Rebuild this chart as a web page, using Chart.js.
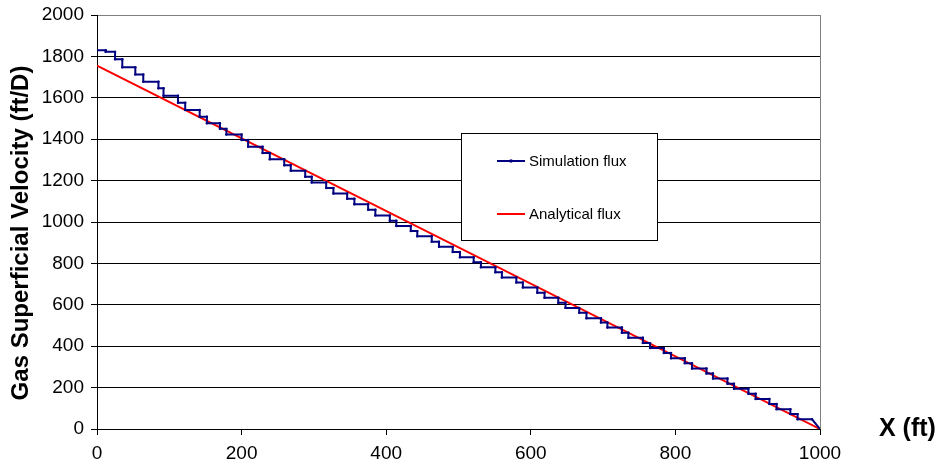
<!DOCTYPE html>
<html><head><meta charset="utf-8">
<script src="https://cdn.jsdelivr.net/npm/chart.js@4.4.0/dist/chart.umd.min.js"></script>
<style>html,body{margin:0;padding:0;background:#fff;}#wrap{width:941px;height:473px;position:relative;}</style>
</head><body><div id="wrap"><canvas id="c" width="941" height="473"></canvas></div>
<script>
// ---- data ----
const seriesNames = ['Simulation flux', 'Analytical flux'];
// simulation: step edges (ft) and the flux value on each step
const stepX = [0,12,25,35,53,64,85,92,112,122,142,152,170,179,200,209,229,239,259,268,288,297,317,327,346,356,375,385,405,414,434,443,463,473,492,502,521,531,551,560,580,589,609,619,638,648,667,677,697,706,726,735,755,765,784,794,813,823,843,852,872,881,901,911,930,940,959,969,989];
const stepV = [1830,1822,1786,1747,1713,1678,1646,1610,1576,1541,1509,1477,1450,1423,1396,1364,1333,1303,1274,1247,1219,1191,1164,1138,1112,1086,1059,1032,1006,981,956,931,905,880,855,830,806,781,757,732,708,684,658,634,610,585,561,535,514,490,465,441,415,391,367,342,318,292,268,244,219,195,170,145,121,96,72,47];
const simEndX = [1000];
const simEndV = [0];
// analytical straight line
const analyticalX = [0, 1000];
const analyticalV = [1755, 0];
// axes
const xTicks = [0, 200, 400, 600, 800, 1000];
const yTicks = [0, 200, 400, 600, 800, 1000, 1200, 1400, 1600, 1800, 2000];
const xTitle = 'X (ft)';
const yTitle = 'Gas Superficial Velocity (ft/D)';

// ---- build point tables ----
const simPts = [];
for (let i = 0; i < stepV.length; i++) {
  simPts.push({x: stepX[i], y: stepV[i]});
  simPts.push({x: stepX[i + 1], y: stepV[i]});
}
for (let i = 0; i < simEndX.length; i++) simPts.push({x: simEndX[i], y: simEndV[i]});
const anaPts = analyticalX.map((x, i) => ({x, y: analyticalV[i]}));

const FONT = "'Liberation Sans', Arial, Helvetica, sans-serif";
Chart.defaults.font.family = FONT;
Chart.defaults.color = '#000';

const BLUE = '#000080', RED = '#FF0000';

const decor = {
  id: 'decor',
  afterDatasetsDraw(chart) {
    const ctx = chart.ctx, a = chart.chartArea;
    ctx.save();
    // right border
    ctx.strokeStyle = '#808080'; ctx.lineWidth = 1;
    ctx.beginPath(); ctx.moveTo(Math.round(a.right) + 0.5, a.top); ctx.lineTo(Math.round(a.right) + 0.5, a.bottom); ctx.stroke();
    // legend box
    const bx = 461.5, by = 133.5, bw = 196, bh = 107;
    ctx.fillStyle = '#fff'; ctx.fillRect(bx, by, bw, bh);
    ctx.strokeStyle = '#000'; ctx.lineWidth = 1; ctx.strokeRect(bx, by, bw, bh);
    const rows = [{y: 161, c: BLUE, mark: true}, {y: 214, c: RED, mark: false}];
    ctx.font = '15px ' + FONT; ctx.textBaseline = 'middle'; ctx.textAlign = 'left';
    rows.forEach((r, i) => {
      ctx.strokeStyle = r.c; ctx.lineWidth = 2;
      ctx.beginPath(); ctx.moveTo(497, r.y); ctx.lineTo(525, r.y); ctx.stroke();
      if (r.mark) { ctx.fillStyle = r.c; ctx.beginPath(); ctx.arc(511, r.y, 1.8, 0, Math.PI * 2); ctx.fill(); }
      ctx.fillStyle = '#000';
      ctx.fillText(chart.data.datasets[i].label, 529, r.y + 1);
    });
    ctx.restore();
  },
  afterDraw(chart) {
    const ctx = chart.ctx, a = chart.chartArea;
    ctx.save();
    ctx.fillStyle = '#000';
    ctx.font = 'bold 25px ' + FONT;
    ctx.textAlign = 'left'; ctx.textBaseline = 'middle';
    ctx.fillText(xTitle, 879, 429);
    ctx.translate(21, 233);
    ctx.rotate(-Math.PI / 2);
    ctx.textAlign = 'center';
    ctx.font = 'bold 24px ' + FONT;
    ctx.fillText(yTitle, 0, 0);
    ctx.restore();
  }
};

new Chart(document.getElementById('c'), {
  type: 'scatter',
  data: {
    datasets: [
      {label: seriesNames[0], data: simPts, showLine: true, borderColor: BLUE, backgroundColor: BLUE,
       borderWidth: 2, pointRadius: 1.2, pointBorderWidth: 0, pointBackgroundColor: BLUE, tension: 0},
      {label: seriesNames[1], data: anaPts, showLine: true, borderColor: RED, backgroundColor: RED,
       borderWidth: 2, pointRadius: 0, tension: 0}
    ]
  },
  options: {
    responsive: false, animation: false, devicePixelRatio: 1,
    layout: {padding: {left: 0, top: 15, right: 121, bottom: 0}},
    plugins: {legend: {display: false}, tooltip: {enabled: false}},
    scales: {
      x: {
        type: 'linear', min: 0, max: 1000,
        afterBuildTicks: s => { s.ticks = xTicks.map(v => ({value: v})); },
        afterFit: s => { s.height = 44; s.paddingLeft = 0; s.paddingRight = 0; },
        grid: {drawOnChartArea: false, drawTicks: true, tickLength: 6, color: '#000', tickColor: '#000'},
        border: {color: '#000', width: 1},
        ticks: {font: {size: 19}, color: '#000', padding: 7, maxRotation: 0, callback: v => String(v)}
      },
      y: {
        type: 'linear', min: 0, max: 2000,
        afterBuildTicks: s => { s.ticks = yTicks.map(v => ({value: v})); },
        afterFit: s => { s.width = 97; s.paddingTop = 0; s.paddingBottom = 0; },
        grid: {drawOnChartArea: true, drawTicks: true, tickLength: 6,
               color: c => (c.tick && c.tick.value === 2000 ? '#808080' : '#000'), tickColor: '#000'},
        border: {color: '#000', width: 1},
        ticks: {font: {size: 19}, color: '#000', padding: 7, callback: v => String(v)}
      }
    }
  },
  plugins: [decor]
});
</script></body></html>
